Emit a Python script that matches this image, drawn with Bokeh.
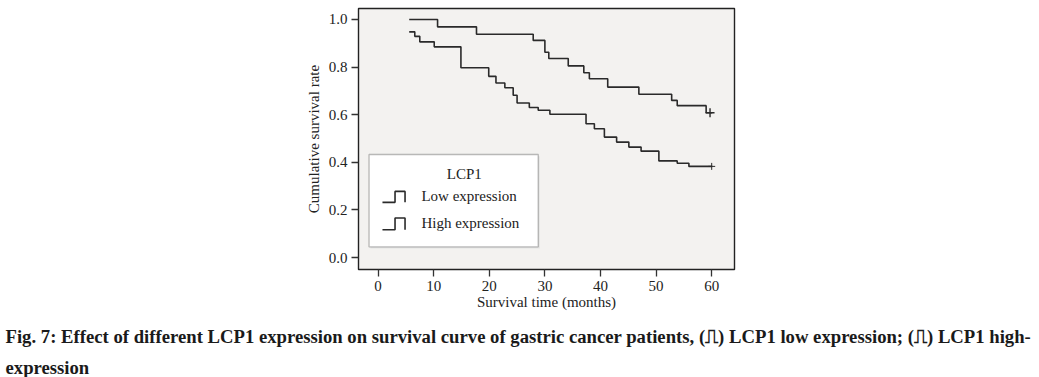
from bokeh.plotting import figure
from bokeh.models import Range1d, FixedTicker, PrintfTickFormatter, BoxAnnotation, Label, Title
from bokeh.embed import file_html
from bokeh.resources import INLINE

# ---- data ----
low_times = [5.6, 10.7, 17.7, 27.9, 30.0, 30.7, 34.2, 37.0, 38.0, 41.3, 46.9, 52.8, 53.8, 59.0, 60.1]
low_surv = [1.0, 0.969, 0.938, 0.912, 0.862, 0.836, 0.805, 0.776, 0.751, 0.716, 0.686, 0.660, 0.638, 0.608, 0.608]
high_times = [5.6, 6.6, 7.5, 10.1, 14.9, 19.9, 21.2, 22.8, 24.3, 25.0, 27.2, 28.8, 30.9, 37.4, 38.9,
              40.7, 42.9, 45.1, 47.3, 50.5, 53.8, 55.9, 60.1]
high_surv = [0.948, 0.929, 0.906, 0.885, 0.797, 0.761, 0.733, 0.713, 0.682, 0.649, 0.630, 0.619, 0.602,
             0.562, 0.541, 0.506, 0.485, 0.464, 0.447, 0.406, 0.396, 0.383, 0.383]
censor_low_t = [59.7]
censor_low_s = [0.608]
censor_high_t = [60.0]
censor_high_s = [0.383]
x_ticks = [0, 10, 20, 30, 40, 50, 60]
y_ticks = [0.0, 0.2, 0.4, 0.6, 0.8, 1.0]
legend_title = "LCP1"
legend_labels = ["Low expression", "High expression"]
caption1 = "Fig. 7: Effect of different LCP1 expression on survival curve of gastric cancer patients, (\u238d) LCP1 low expression; (\u238d) LCP1 high-"
caption2 = "expression"

FONT = "Liberation Serif"
LINE = "#2a2a2a"

p = figure(width=1039, height=377, output_backend="svg", toolbar_location=None,
           x_range=Range1d(-3.52, 64.1), y_range=Range1d(-0.05, 1.046),
           min_border_left=358, min_border_right=305, min_border_top=8, min_border_bottom=108)
p.background_fill_color = "#f3f2f0"
p.border_fill_color = "white"
p.outline_line_color = "#222222"
p.outline_line_width = 1.4
p.grid.visible = False

for ax in (p.xaxis[0], p.yaxis[0]):
    ax.axis_line_color = None
    ax.major_tick_in = 0
    ax.major_tick_out = 7
    ax.major_tick_line_color = "#333333"
    ax.major_tick_line_width = 1.3
    ax.minor_tick_line_color = None
    ax.major_label_text_font = FONT
    ax.major_label_text_font_size = "15px"
    ax.major_label_text_color = "#222222"
    ax.axis_label_text_font = FONT
    ax.axis_label_text_font_size = "15px"
    ax.axis_label_text_font_style = "normal"
    ax.axis_label_text_color = "#222222"

p.xaxis.ticker = FixedTicker(ticks=x_ticks)
p.yaxis.ticker = FixedTicker(ticks=y_ticks)
p.yaxis.formatter = PrintfTickFormatter(format="%.1f")
p.xaxis.axis_label = "Survival time (months)"
p.yaxis.axis_label = "Cumulative survival rate"
p.xaxis.major_label_standoff = 4
p.yaxis.major_label_standoff = 4
p.xaxis.axis_label_standoff = 0
p.yaxis.axis_label_standoff = 4

# survival curves
p.step(low_times, low_surv, mode="after", line_color=LINE, line_width=1.6)
p.step(high_times, high_surv, mode="after", line_color=LINE, line_width=1.6)
p.scatter(censor_low_t, censor_low_s, marker="cross", size=9, line_color=LINE, line_width=1.4)
p.scatter(censor_high_t, censor_high_s, marker="cross", size=7, line_color=LINE, line_width=1.0)

# legend (decoration, drawn in plot coordinates)
p.add_layout(BoxAnnotation(left=-1.35, right=29.1, bottom=0.038, top=0.426, level="underlay",
                           fill_color="#dddddd", fill_alpha=0.6, line_color=None))
p.add_layout(BoxAnnotation(left=-1.62, right=28.8, bottom=0.045, top=0.433, level="underlay",
                           fill_color="white", fill_alpha=1.0, line_color="#222222", line_width=1.3))
p.add_layout(Label(x=15.5, y=0.351, text=legend_title, text_font=FONT, text_font_size="15px",
                   text_align="center", text_baseline="middle", text_color="#222222"))
icon_x = [0.79, 3.05, 3.05, 4.85, 4.85]
for lab, yb, yt in zip(legend_labels, [0.232, 0.117], [0.278, 0.166]):
    r = p.line(icon_x, [yb, yb, yt, yt, yb], line_color=LINE, line_width=1.6)
    r.level = "overlay"
    p.add_layout(Label(x=7.8, y=(yb + yt) / 2 + 0.005, text=lab, text_font=FONT, text_font_size="15px",
                       text_align="left", text_baseline="middle", text_color="#222222"))

# caption
t1 = Title(text=caption1, align="left", offset=-353, text_font=FONT, text_font_style="bold",
           text_font_size="18.7px", text_color="#1a1a1a", standoff=22)
t2 = Title(text=caption2, align="left", offset=-353, text_font=FONT, text_font_style="bold",
           text_font_size="18.7px", text_color="#1a1a1a", standoff=-5)
p.add_layout(t1, "below")
p.add_layout(t2, "below")

open("out.html", "w").write(file_html(p, INLINE))
